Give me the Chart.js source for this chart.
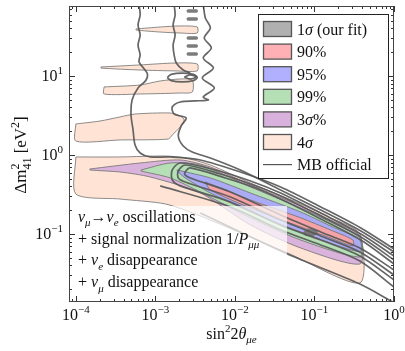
<!DOCTYPE html>
<html>
<head>
<meta charset="utf-8">
<script src="https://cdn.jsdelivr.net/npm/chart.js@4.4.1/dist/chart.umd.min.js"></script>
<style>
  html, body { margin: 0; padding: 0; background: #fff; }
  #wrap { width: 405px; height: 351px; }
</style>
</head>
<body>
<div id="wrap"><canvas id="c" width="405" height="351"></canvas></div>
<script>
// allowed regions in (sin^2 2theta_mue, dm^2_41)

const xRange = [8.2e-5, 1.0];
const yRange = [0.01377, 76.9];
const xDecades = [1e-4, 1e-3, 1e-2, 1e-1, 1];
const xDecadeExp = ['\u22124', '\u22123', '\u22122', '\u22121', '0'];
const yDecades = [0.1, 1, 10];
const yDecadeExp = ['\u22121', '0', '1'];

// 4 sigma islands at large dm^2
const sig4Strip1 = [[5.71e-4,39.4],[1.15e-3,41.7],[2.05e-3,43.0],[3.36e-3,41.7],[3.36e-3,35.0],[2.05e-3,35.0],[1.15e-3,36.0],[5.71e-4,38.2],[5.71e-4,39.4]];
const sig4Strip2 = [[2.07e-4,13.0],[6.43e-4,13.8],[1.77e-3,14.6],[3.36e-3,14.2],[3.36e-3,11.6],[1.77e-3,11.6],[6.43e-4,11.9],[2.07e-4,12.6],[2.07e-4,13.0]];
const sig4Strip3 = [[2.26e-4,7.26],[6.43e-4,7.69],[1.15e-3,8.65],[2.05e-3,9.16],[2.91e-3,8.90],[2.91e-3,6.27],[2.05e-3,6.09],[6.43e-4,5.92],[2.26e-4,5.92],[2.26e-4,7.26]];
const sig4Blob = [[1e-4,2.47],[2.01e-4,2.69],[3.59e-4,3.03],[5.55e-4,3.30],[1.54e-3,3.40],[2.05e-3,3.12],[2.31e-3,2.77],[2.00e-3,2.20],[1.63e-3,1.79],[1.45e-3,1.59],[3.59e-4,1.55],[1e-4,1.50],[1e-4,2.47]];

// main diagonal band, outer to inner
const sig4Band = [[1e-4,0.944],[3.59e-4,0.944],[1.33e-3,0.971],[2.37e-3,0.917],[4.91e-3,0.747],[1.57e-2,0.442],[6.70e-2,0.240],[0.160,0.160],[0.372,0.100],[0.372,0.0240],[4.59e-2,0.0575],[3.67e-3,0.169],[1.33e-3,0.240],[3.59e-4,0.277],[1e-4,0.321],[1e-4,0.944]];
const sig3Band = [[1.50e-4,0.665],[6.43e-4,0.792],[2.05e-3,0.865],[4.91e-3,0.705],[1.57e-2,0.417],[6.70e-2,0.226],[0.160,0.150],[0.372,0.0944],[0.372,0.0417],[6.70e-2,0.0665],[1.57e-2,0.130],[3.67e-3,0.330],[8.59e-4,0.527],[3.59e-4,0.609],[1.50e-4,0.646],[1.50e-4,0.665]];
const cl99Band = [[6.61e-4,0.646],[1.54e-3,0.792],[3.67e-3,0.747],[1.57e-2,0.394],[6.70e-2,0.213],[0.160,0.142],[0.372,0.0889],[0.372,0.0512],[6.70e-2,0.0839],[1.57e-2,0.160],[3.67e-3,0.340],[1.54e-3,0.512],[6.61e-4,0.627],[6.61e-4,0.646]];
const cl95Band = [[1.88e-3,0.646],[4.91e-3,0.512],[1.57e-2,0.330],[6.70e-2,0.190],[0.160,0.126],[0.372,0.0839],[0.372,0.0592],[6.70e-2,0.106],[1.57e-2,0.190],[4.91e-3,0.330],[2.37e-3,0.512],[1.88e-3,0.627],[1.88e-3,0.646]];
const cl90Band = [[4.25e-3,0.455],[1.57e-2,0.269],[6.70e-2,0.160],[0.160,0.112],[0.304,0.0839],[0.304,0.0705],[0.160,0.0889],[6.70e-2,0.123],[1.57e-2,0.213],[4.91e-3,0.361],[4.25e-3,0.455]];
const sig1Blob = [[7.31e-2,0.106],[8.45e-2,0.116],[0.107,0.109],[0.107,0.100],[8.97e-2,0.0944],[7.53e-2,0.0971],[7.31e-2,0.106]];

// MiniBooNE official contours
const mbLeft = [[6.24e-4,80],[6.43e-4,59.2],[6.05e-4,44.2],[6.43e-4,33.0],[6.05e-4,24.7],[6.43e-4,18.5],[6.24e-4,15.0],[7.87e-4,10.9],[7.64e-4,8.90],[6.05e-4,7.05],[5.09e-4,4.97],[4.94e-4,3.21],[5.24e-4,2.07],[5.55e-4,1.34],[6.43e-4,1.06],[8.59e-4,0.944],[1.54e-3,0.944],[3.67e-3,0.865],[1.17e-2,0.609],[3.75e-2,0.394],[0.120,0.220],[0.383,0.119],[1.0,0.0646]];
const mbMid = [[1.72e-3,80],[1.77e-3,59.2],[1.67e-3,44.2],[1.77e-3,33.0],[1.67e-3,24.7],[1.72e-3,18.5],[1.83e-3,14.6],[2.24e-3,11.9],[2.74e-3,10.9]];
const mbZigzag = [[4.00e-3,80],[4.25e-3,54.2],[4.91e-3,40.5],[4.12e-3,30.3],[5.05e-3,22.6],[4.00e-3,16.9],[5.36e-3,12.6],[3.89e-3,9.44],[5.51e-3,7.05],[4.00e-3,5.42],[4.63e-3,4.97],[3.17e-3,4.83],[2.05e-3,4.69],[1.63e-3,4.05],[1.72e-3,3.30],[2.44e-3,2.94],[2.11e-3,2.33],[1.94e-3,1.74],[2.24e-3,1.30],[2.91e-3,1.09],[4.91e-3,0.917],[1.17e-2,0.646],[3.75e-2,0.361],[0.120,0.201],[0.383,0.109],[1.0,0.0592]];
const mbRingOuter = [[1.41e-3,9.57],[1.58e-3,10.5],[2.18e-3,10.9],[2.99e-3,10.5],[3.36e-3,9.57],[2.99e-3,8.72],[2.18e-3,8.40],[1.58e-3,8.72],[1.41e-3,9.57]];
const mbRingInner = [[2.31e-3,9.71],[2.74e-3,10.3],[3.27e-3,9.71],[2.74e-3,9.16],[2.31e-3,9.71]];
const mbLoopC = [[1.0,0.0527],[0.383,0.100],[0.120,0.184],[3.75e-2,0.330],[1.57e-2,0.469],[5.68e-3,0.646],[2.05e-3,0.792],[1.63e-3,0.646],[1.63e-3,0.483],[2.05e-3,0.406],[8.77e-3,0.254],[3.75e-2,0.130],[0.120,0.0839],[0.372,0.0527],[1.0,0.0262]];
const mbLoopD = [[1.0,0.0469],[0.383,0.0916],[0.120,0.169],[3.75e-2,0.303],[1.57e-2,0.429],[6.56e-3,0.574],[2.37e-3,0.747],[1.94e-3,0.627],[1.94e-3,0.512],[2.37e-3,0.455],[8.77e-3,0.294],[3.75e-2,0.150],[0.120,0.0944],[0.372,0.0592],[1.0,0.0303]];
const mbLoopE = [[1.0,0.0417],[0.383,0.0839],[0.120,0.155],[3.75e-2,0.277],[1.82e-2,0.382],[7.59e-3,0.512],[2.74e-3,0.685],[2.37e-3,0.609],[2.37e-3,0.558],[2.74e-3,0.512],[8.77e-3,0.340],[3.75e-2,0.174],[0.120,0.106],[0.372,0.0665],[1.0,0.0350]];
const mbLow1 = [[1.15e-3,0.406],[8.77e-3,0.220],[3.75e-2,0.112],[0.120,0.0726],[0.372,0.0455],[1.0,0.0213]];
const mbLow2 = [[3.67e-3,0.184],[4.59e-2,0.0558],[0.372,0.0233],[1.0,0.0135]];
const pillY = [66.5, 52.7, 30.3, 24.0, 19.0];
const pillX = [2.59e-3, 3.27e-3];

const legendLabels = [
  [['1','n'],['\u03c3','i'],[' (our fit)','n']],
  [['90%','n']],
  [['95%','n']],
  [['99%','n']],
  [['3','n'],['\u03c3','i'],['%','n']],
  [['4','n'],['\u03c3','i']],
  [['MB official','n']]
];
const legendColors = ['#b0b0b0', '#ffb0b4', '#b0b0ff', '#b5e0b5', '#d8b2dc', '#ffe6da'];

const noteLines = [
  [['\u03bd','i'],['\u03bc','isub'],['\u2192','n'],['\u03bd','i'],['e','isub'],[' oscillations','n']],
  [['+ signal normalization 1/','n'],['P','i'],['\u03bc\u03bc','isub']],
  [['+ ','n'],['\u03bd','i'],['e','isub'],[' disappearance','n']],
  [['+ ','n'],['\u03bd','i'],['\u03bc','isub'],[' disappearance','n']]
];

const FONT = '"Liberation Serif", "DejaVu Serif", serif';
const pts = arr => arr.map(([x, y]) => ({x, y}));

function region(arr, fill, order) {
  return {data: pts(arr), showLine: true, fill: 'shape', backgroundColor: fill,
    borderColor: '#6e6e6e', borderWidth: 0.8, pointRadius: 0, tension: 0.25, order, clip: 0};
}
function contour(arr) {
  return {data: pts(arr), showLine: true, fill: false, borderColor: 'rgba(85,85,85,0.9)',
    borderWidth: 1.7, pointRadius: 0, tension: 0.3, order: 1, clip: 0};
}

const datasets = [
  region(sig4Strip1, '#ffe4d6', 10),
  region(sig4Strip2, '#ffe4d6', 10),
  region(sig4Strip3, '#ffe4d6', 10),
  region(sig4Blob, '#ffe4d6', 10),
  region(sig4Band, '#ffe4d6', 10),
  region(sig3Band, '#d9b3dc', 9),
  region(cl99Band, '#b5e0b5', 8),
  region(cl95Band, '#aaaaf5', 7),
  region(cl90Band, '#f5a3a6', 6),
  region(sig1Blob, '#7a7a7a', 5),
  contour(mbLeft), contour(mbMid), contour(mbZigzag),
  contour(mbRingOuter), contour(mbRingInner),
  contour(mbLoopC), contour(mbLoopD), contour(mbLoopE),
  contour(mbLow1), contour(mbLow2)
];
pillY.forEach(y => {
  datasets.push({data: pts([[pillX[0], y], [pillX[1], y]]), showLine: true, fill: false,
    borderColor: 'rgba(110,110,110,0.9)', borderWidth: 3.5, borderCapStyle: 'round',
    pointRadius: 0, order: 1, clip: 0});
});

// rich text: n = normal, i = italic, sub/isub = subscript, sup = superscript, supk = superscript without advance
function rich(ctx, x, y, parts, size, draw) {
  let cx = x;
  for (const [t, s] of parts) {
    const small = s.includes('sub') || s.includes('sup');
    const it = s.startsWith('i');
    const fs = small ? Math.round(size * 0.7) : size;
    ctx.font = (it ? 'italic ' : '') + fs + 'px ' + FONT;
    const dy = s.includes('sub') ? size * 0.28 : (s.includes('sup') ? -size * 0.42 : 0);
    if (draw) ctx.fillText(t, cx, y + dy);
    if (s !== 'supk') cx += ctx.measureText(t).width;
  }
  return cx - x;
}

const decor = {
  id: 'decor',
  afterDatasetsDraw(chart) {
    const {ctx, chartArea: a} = chart;
    ctx.save();
    ctx.fillStyle = 'rgba(255,255,255,0.7)';
    ctx.fillRect(a.left + 1, 206, 287 - a.left - 1, a.bottom - 207);
    ctx.fillStyle = '#111';
    ctx.textBaseline = 'alphabetic';
    ctx.textAlign = 'left';
    noteLines.forEach((parts, i) => rich(ctx, 78, 222 + i * 21.7, parts, 16, true));
    ctx.restore();
  },
  afterDraw(chart) {
    const {ctx, chartArea: a, scales} = chart;
    const xs = scales.x, ys = scales.y;
    ctx.save();
    ctx.strokeStyle = '#333';
    ctx.lineWidth = 1;
    // ticks on all four sides
    for (let k = -5; k <= 1; k++) {
      for (let m = 1; m <= 9; m++) {
        const v = m * Math.pow(10, k);
        const len = m === 1 ? 6 : 3;
        if (v >= xRange[0] && v <= xRange[1]) {
          const px = Math.round(xs.getPixelForValue(v)) + 0.5;
          ctx.beginPath();
          ctx.moveTo(px, a.bottom); ctx.lineTo(px, a.bottom - len);
          ctx.moveTo(px, a.top); ctx.lineTo(px, a.top + len);
          ctx.stroke();
        }
        if (v >= yRange[0] && v <= yRange[1]) {
          const py = Math.round(ys.getPixelForValue(v)) + 0.5;
          ctx.beginPath();
          ctx.moveTo(a.left, py); ctx.lineTo(a.left + len, py);
          ctx.moveTo(a.right, py); ctx.lineTo(a.right - len, py);
          ctx.stroke();
        }
      }
    }
    ctx.strokeStyle = '#444';
    ctx.strokeRect(a.left + 0.5, a.top + 0.5, a.right - a.left - 1, a.bottom - a.top - 1);

    // tick labels
    ctx.fillStyle = '#111';
    ctx.textAlign = 'left';
    ctx.textBaseline = 'alphabetic';
    xDecades.forEach((v, i) => {
      const parts = [['10', 'n'], [xDecadeExp[i], 'sup']];
      const w = rich(ctx, 0, 0, parts, 16, false);
      rich(ctx, xs.getPixelForValue(v) - w / 2, 320, parts, 16, true);
    });
    yDecades.forEach((v, i) => {
      const parts = [['10', 'n'], [yDecadeExp[i], 'sup']];
      const w = rich(ctx, 0, 0, parts, 16, false);
      rich(ctx, a.left - 6 - w, ys.getPixelForValue(v) + 5, parts, 16, true);
    });

    // axis titles
    const xt = [['sin', 'n'], ['2', 'sup'], ['2', 'n'], ['\u03b8', 'i'], ['\u03bce', 'isub']];
    const xw = rich(ctx, 0, 0, xt, 16, false);
    rich(ctx, (a.left + a.right) / 2 - xw / 2, 339, xt, 16, true);
    const yt = [['\u0394m', 'n'], ['2', 'supk'], ['41', 'sub'], [' [eV', 'n'], ['2', 'sup'], [']', 'n']];
    const yw = rich(ctx, 0, 0, yt, 17, false);
    ctx.save();
    ctx.translate(26, 155);
    ctx.rotate(-Math.PI / 2);
    rich(ctx, -yw / 2, 0, yt, 17, true);
    ctx.restore();

    // legend
    ctx.fillStyle = '#fff';
    ctx.fillRect(258.5, 14.5, 130, 164);
    ctx.strokeStyle = '#222';
    ctx.strokeRect(258.5, 14.5, 130, 164);
    legendLabels.forEach((parts, i) => {
      const cy = 29 + i * 22.6;
      if (i < legendColors.length) {
        ctx.fillStyle = legendColors[i];
        ctx.fillRect(263.5, cy - 7.5, 28, 15);
        ctx.strokeStyle = '#555';
        ctx.lineWidth = 1.3;
        ctx.strokeRect(263.5, cy - 7.5, 28, 15);
      } else {
        ctx.strokeStyle = '#555';
        ctx.lineWidth = 1.2;
        ctx.beginPath();
        ctx.moveTo(263, cy); ctx.lineTo(292, cy);
        ctx.stroke();
      }
      ctx.fillStyle = '#111';
      rich(ctx, 297, cy + 5.5, parts, 16, true);
    });
    ctx.restore();
  }
};

new Chart(document.getElementById('c'), {
  type: 'scatter',
  data: {datasets},
  options: {
    responsive: false,
    devicePixelRatio: 1,
    animation: false,
    events: [],
    layout: {padding: {top: 6, right: 11, left: 0, bottom: 0}},
    plugins: {legend: {display: false}, tooltip: {enabled: false}},
    scales: {
      x: {
        type: 'logarithmic', min: xRange[0], max: xRange[1],
        ticks: {display: false}, grid: {display: false}, border: {display: false},
        afterFit: s => { s.height = 49; }
      },
      y: {
        type: 'logarithmic', min: yRange[0], max: yRange[1],
        ticks: {display: false}, grid: {display: false}, border: {display: false},
        afterFit: s => { s.width = 69; }
      }
    }
  },
  plugins: [decor]
});
</script>
</body>
</html>
